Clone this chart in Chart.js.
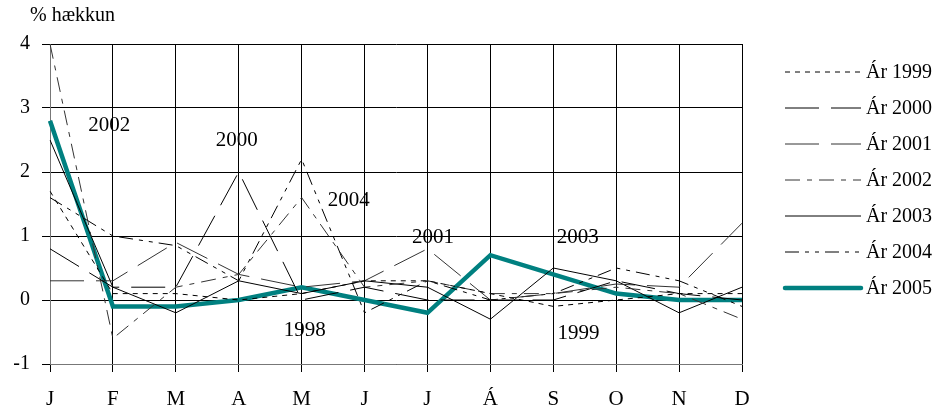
<!DOCTYPE html>
<html>
<head>
<meta charset="utf-8">
<script src="https://cdn.jsdelivr.net/npm/chart.js@4.4.0/dist/chart.umd.min.js"></script>
<style>
  html, body { margin: 0; padding: 0; background: #fff; }
  #wrap { width: 951px; height: 414px; }
</style>
</head>
<body>
<div id="wrap"><canvas id="chart" width="951" height="414"></canvas></div>
<script>
    // Months and monthly % change per year
    const months = ['J', 'F', 'M', 'A', 'M', 'J', 'J', 'Á', 'S', 'O', 'N', 'D'];
    const years = ['Ár 1999', 'Ár 2000', 'Ár 2001', 'Ár 2002', 'Ár 2003', 'Ár 2004', 'Ár 2005'];
    const y1999 = [1.7, 0.1, 0.1, 0.0, 0.1, 0.3, 0.3, 0.1, -0.1, 0.0, 0.1, 0.1];
    const y2000 = [0.8, 0.2, 0.2, 2.0, 0.0, 0.2, 0.0, 0.0, 0.0, 0.3, 0.1, 0.0];
    const y2001 = [0.3, 0.3, 0.9, 0.4, 0.2, 0.3, 0.8, 0.0, 0.1, 0.25, 0.2, 1.2];
    const y2002 = [4.0, -0.6, 0.2, 0.4, 1.6, 0.2, 0.3, 0.1, 0.1, 0.2, 0.1, -0.3];
    const y2003 = [2.5, 0.2, -0.2, 0.3, 0.1, 0.3, 0.2, -0.3, 0.5, 0.3, -0.2, 0.2];
    const y2004 = [1.6, 1.0, 0.85, 0.3, 2.2, -0.2, 0.3, 0.0, 0.1, 0.5, 0.3, -0.1];
    const y2005 = [2.8, -0.1, -0.1, 0.0, 0.2, 0.0, -0.2, 0.7, 0.4, 0.1, 0.0, 0.0];
    const yTicks = [-1, 0, 1, 2, 3, 4];

    // Year labels written inside the plot
    const noteText = ['2002', '2000', '2004', '2001', '2003', '1998', '1999'];
    const noteIdx = [0.94, 2.97, 4.75, 6.09, 8.39, 4.05, 8.4];
    const noteVal = [2.73, 2.5, 1.56, 0.98, 0.98, -0.47, -0.52];

    const serif = '"Liberation Serif", "DejaVu Serif", serif';

    function line(label, data, color, dash, width) {
      return {
        label: label,
        data: data,
        borderColor: color,
        backgroundColor: color,
        borderDash: dash,
        borderWidth: width,
        pointRadius: 0,
        tension: 0,
        fill: false
      };
    }

    // Draws the legend at the right and the year notes in the plot
    const extrasPlugin = {
      id: 'extras',
      afterDraw: function(chart) {
        const ctx = chart.ctx;
        const xs = chart.scales.x, ys = chart.scales.y;
        ctx.save();
        ctx.fillStyle = '#000';
        ctx.font = '21px ' + serif;
        ctx.textAlign = 'center';
        ctx.textBaseline = 'middle';
        for (let i = 0; i < noteText.length; i++) {
          ctx.fillText(noteText[i], xs.getPixelForValue(noteIdx[i]), ys.getPixelForValue(noteVal[i]));
        }

        // axis title
        ctx.textAlign = 'left';
        ctx.font = '20px ' + serif;
        ctx.fillText('% hækkun', 30, 16);

        // legend
        const ds = chart.data.datasets;
        for (let i = 0; i < ds.length; i++) {
          const yy = 72 + i * 36;
          ctx.beginPath();
          ctx.strokeStyle = ds[i].borderColor;
          ctx.lineWidth = ds[i].borderWidth;
          ctx.lineCap = ds[i].borderWidth > 2 ? 'round' : 'butt';
          ctx.setLineDash(ds[i].borderDash);
          ctx.moveTo(785, yy);
          ctx.lineTo(861, yy);
          ctx.stroke();
          ctx.setLineDash([]);
          ctx.fillStyle = '#000';
          ctx.font = '20px ' + serif;
          ctx.textBaseline = 'middle';
          ctx.fillText(ds[i].label, 866, yy + 1);
        }
        ctx.restore();
      }
    };

    new Chart(document.getElementById('chart').getContext('2d'), {
      type: 'line',
      data: {
        labels: months,
        datasets: [
          line(years[0], y1999, '#000', [5, 5], 1),
          line(years[1], y2000, '#000', [34, 12], 1),
          line(years[2], y2001, '#333', [34, 12], 1),
          line(years[3], y2002, '#333', [15, 7, 5, 7], 1),
          line(years[4], y2003, '#000', [], 1),
          line(years[5], y2004, '#000', [14, 6, 4, 6, 4, 6], 1),
          line(years[6], y2005, '#008080', [], 4.5)
        ]
      },
      options: {
        responsive: false,
        animation: false,
        layout: { padding: { top: 44, right: 209, left: 0, bottom: 0 } },
        plugins: {
          legend: { display: false },
          tooltip: { enabled: false }
        },
        scales: {
          x: {
            offset: false,
            afterFit: function(s) { s.height = 50; },
            grid: { color: '#000', lineWidth: 1, tickLength: 8, drawOnChartArea: true },
            border: { color: '#777', width: 1 },
            ticks: { color: '#000', font: { family: serif, size: 21 }, padding: 15, maxRotation: 0, autoSkip: false }
          },
          y: {
            min: -1,
            max: 4,
            afterFit: function(s) { s.width = 50; },
            afterBuildTicks: function(s) { s.ticks = yTicks.map(v => ({ value: v })); },
            grid: { color: '#000', lineWidth: 1, tickLength: 8 },
            border: { color: '#777', width: 1 },
            ticks: { color: '#000', font: { family: serif, size: 20 }, padding: 12 }
          }
        }
      },
      plugins: [extrasPlugin]
    });
</script>
</body>
</html>
